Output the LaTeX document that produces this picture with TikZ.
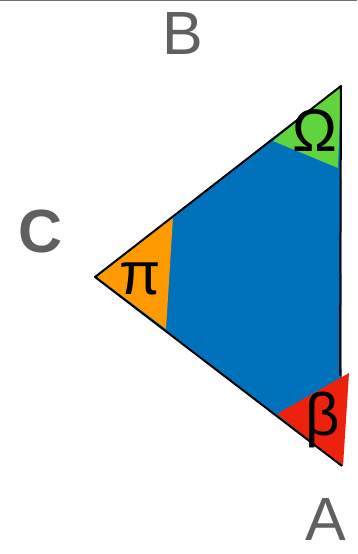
\documentclass[tikz,border=0pt]{standalone}
\usepackage{fontspec}
\setmainfont{Liberation Sans}
\definecolor{triblue}{RGB}{0,114,188}
\definecolor{trigreen}{RGB}{96,212,60}
\definecolor{triorange}{RGB}{255,153,0}
\definecolor{trired}{RGB}{238,34,12}
\definecolor{labelgray}{RGB}{96,96,96}
\begin{document}
\begin{tikzpicture}[x=1pt,y=1pt,
  vlabel/.style={text=labelgray,font=\fontsize{61}{61}\selectfont,inner sep=0pt},
  glabel/.style={text=black,font=\fontsize{60}{60}\selectfont,inner sep=0pt},
  edge/.style={draw=black,line width=2pt,line join=round}]
\useasboundingbox (0,0) rectangle (357,554);
\fill[white] (0,0) rectangle (357,554);
\draw[draw=labelgray!90,line width=2pt] (0,553.5) -- (357,553.5);
% vertices
\coordinate (T) at (341,468);
\coordinate (L) at (95,277);
\coordinate (Bt) at (342,88);
\coordinate (R) at (340,178);
% main blue triangle
\fill[triblue] (T) -- (L) -- (Bt) -- cycle;
% corner triangles
\fill[trigreen] (341,468) -- (273,413) -- (338,386) -- cycle;
\fill[triorange] (97,277) -- (173,337) -- (166,225) -- cycle;
\fill[trired] (349,181) -- (277,140) -- (343,88) -- cycle;
% outline
\draw[edge] (R) -- (T) -- (L) -- (Bt);
% labels
\node[vlabel] (B) at (183,520) {B};
\node[vlabel,font=\bfseries\fontsize{61}{61}\selectfont] (C) at (41,322) {C};
\node[vlabel] (A) at (326,34) {A};
\node[glabel] (omega) at (315,423) {Ω};
\node[glabel] (pi) at (140,275) {π};
\node[glabel] (beta) at (323,134) {β};
\end{tikzpicture}
\end{document}
